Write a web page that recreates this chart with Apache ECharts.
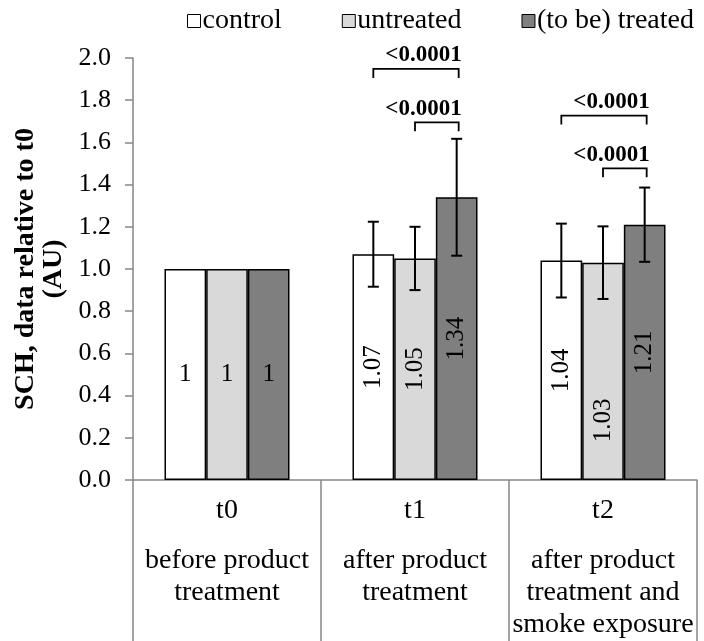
<!DOCTYPE html>
<html>
<head>
<meta charset="utf-8">
<script src="https://cdn.jsdelivr.net/npm/echarts@6/dist/echarts.min.js"></script>
<style>html,body{margin:0;padding:0;background:#fff}#c{width:704px;height:641px}</style>
</head>
<body>
<div id="c"></div>
<script>
const categories = ['t0', 't1', 't2'];
const descriptions = [['before product', 'treatment'], ['after product', 'treatment'], ['after product', 'treatment and', 'smoke exposure']];
const seriesNames = ['control', 'untreated', '(to be) treated'];
const controlValues = [1, 1.07, 1.04];
const untreatedValues = [1, 1.05, 1.03];
const treatedValues = [1, 1.34, 1.21];
const controlErr = [0, 0.154, 0.175];
const untreatedErr = [0, 0.15, 0.172];
const treatedErr = [0, 0.277, 0.176];
const bracketCat = [1, 1, 2, 2];
const bracketFrom = [0, 1, 0, 1];
const bracketTo = [2, 2, 2, 2];
const bracketLevel = [1.948, 1.695, 1.727, 1.477];
const pLabels = ['<0.0001', '<0.0001', '<0.0001', '<0.0001'];

const FONT = 'Liberation Serif';
const colors = ['#ffffff', '#d9d9d9', '#7f7f7f'];
const CAT_GAP = 0.335;
// label shifts along the bar (layout only, px downward): [seriesIdx][catIdx]
const labelShift = [[0, 0, 0], [0, 0, 49], [0, 0, 0]];

const values = [controlValues, untreatedValues, treatedValues];
const errs = [controlErr, untreatedErr, treatedErr];

function barCenterX(api, cat, s, y) {
  const band = api.size([1, 0])[0];
  const bw = band * (1 - CAT_GAP) / 3;
  const p = api.coord([cat, y]);
  return [p[0] + (s - 1) * bw, p[1]];
}

const barSeries = seriesNames.map((name, s) => ({
  name: name,
  type: 'bar',
  barGap: 0,
  barCategoryGap: (CAT_GAP * 100) + '%',
  itemStyle: { color: colors[s], borderColor: '#000', borderWidth: 1.5 },
  data: values[s].map((v, i) => ({
    value: v,
    label: {
      show: true,
      position: 'inside',
      rotate: i === 0 ? 0 : 90,
      offset: i === 0 ? [0, labelShift[s][i]] : [-labelShift[s][i], 0],
      formatter: String(v),
      fontFamily: FONT, fontSize: 25, color: '#000'
    }
  })),
  z: 2
}));

const errData = [];
for (let s = 0; s < 3; s++) for (let i = 0; i < 3; i++) if (errs[s][i] > 0) errData.push([i, s, values[s][i], errs[s][i]]);

const errSeries = {
  type: 'custom',
  data: errData,
  z: 5,
  silent: true,
  renderItem: function (params, api) {
    const cat = api.value(0), s = api.value(1), v = api.value(2), e = api.value(3);
    const top = barCenterX(api, cat, s, v + e);
    const bot = barCenterX(api, cat, s, v - e);
    const x = top[0], cw = 5.5;
    const st = { stroke: '#000', lineWidth: 2 };
    return {
      type: 'group',
      children: [
        { type: 'line', shape: { x1: x, y1: top[1], x2: x, y2: bot[1] }, style: st },
        { type: 'line', shape: { x1: x - cw, y1: top[1], x2: x + cw, y2: top[1] }, style: st },
        { type: 'line', shape: { x1: x - cw, y1: bot[1], x2: x + cw, y2: bot[1] }, style: st }
      ]
    };
  }
};

const bracketData = bracketCat.map((c, k) => [c, bracketFrom[k], bracketTo[k], bracketLevel[k], k]);
const bracketSeries = {
  type: 'custom',
  data: bracketData,
  z: 6,
  silent: true,
  renderItem: function (params, api) {
    const cat = api.value(0), f = api.value(1), t = api.value(2), y = api.value(3), k = api.value(4);
    const a = barCenterX(api, cat, f, y);
    const b = barCenterX(api, cat, t, y);
    const drop = 9;
    return {
      type: 'group',
      children: [
        { type: 'polyline', shape: { points: [[a[0], a[1] + drop], [a[0], a[1]], [b[0] + 2, b[1]], [b[0] + 2, b[1] + drop]] },
          style: { stroke: '#000', lineWidth: 1.8, fill: null } },
        { type: 'text', style: { text: pLabels[k], x: b[0] + 5, y: a[1] - 2, align: 'right', verticalAlign: 'bottom',
          font: 'bold 23px "' + FONT + '"', fill: '#000' } }
      ]
    };
  }
};

const chart = echarts.init(document.getElementById('c'));
chart.setOption({
  animation: false,
  backgroundColor: '#fff',
  legend: {
    top: 2, left: 182,
    itemWidth: 13, itemHeight: 13, itemGap: 60,
    icon: 'rect',
    itemStyle: { borderWidth: 1, borderColor: '#000' },
    textStyle: { fontFamily: FONT, fontSize: 28, color: '#000', padding: [0, 0, 0, -3] },
    data: seriesNames
  },
  grid: { left: 133, right: 7, top: 58, bottom: 161, containLabel: false, outerBoundsMode: 'none' },
  xAxis: {
    type: 'category',
    data: categories,
    axisLine: { lineStyle: { color: '#868686', width: 1.5 } },
    axisTick: { show: true, length: 170, lineStyle: { color: '#868686', width: 1.5 } },
    axisLabel: {
      margin: 15,
      interval: 0,
      formatter: function (val, idx) {
        return '{t|' + val + '}\n{s| }\n' + descriptions[idx].map(l => '{d|' + l + '}').join('\n');
      },
      rich: {
        t: { fontFamily: FONT, fontSize: 28, lineHeight: 32, color: '#000' },
        s: { fontSize: 10, lineHeight: 18 },
        d: { fontFamily: FONT, fontSize: 28, lineHeight: 32, color: '#000' }
      }
    }
  },
  yAxis: {
    type: 'value',
    min: 0, max: 2, interval: 0.2,
    name: 'SCH, data relative to t0\n(AU)',
    nameLocation: 'middle',
    nameRotate: 90,
    nameGap: 53,
    nameTextStyle: { fontFamily: FONT, fontSize: 28, fontWeight: 'bold', color: '#000', lineHeight: 28 },
    axisLine: { show: true, lineStyle: { color: '#868686', width: 1.5 } },
    axisTick: { show: true, length: 8, lineStyle: { color: '#868686', width: 1.5 } },
    splitLine: { show: false },
    axisLabel: { margin: 22, fontFamily: FONT, fontSize: 26, color: '#000', formatter: v => v.toFixed(1) }
  },
  series: barSeries.concat([errSeries, bracketSeries])
});
</script>
</body>
</html>
